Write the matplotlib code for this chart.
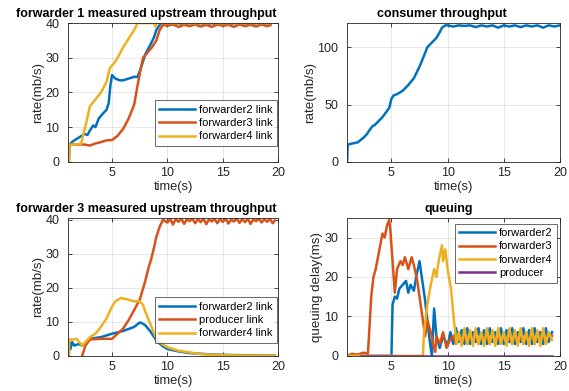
import numpy as np
import matplotlib
matplotlib.use("Agg")
import matplotlib.pyplot as plt

plt.rcParams['font.family'] = ['Liberation Sans', 'DejaVu Sans']

C_BLUE = '#0072BD'
C_RED = '#D95319'
C_YEL = '#EDB120'
C_PUR = '#7E2F8E'

# ---- forwarder 1 measured upstream throughput ----
f1_t_fw2 = [1.1, 1.15, 1.5, 2.0, 2.5, 2.8, 3.0, 3.3, 3.5, 3.8, 4.2, 4.5, 4.7, 4.85, 5.0, 5.3, 5.7,
            6.0, 6.5, 7.0, 7.3, 7.6, 8.0, 8.5, 8.8, 9.0, 9.3, 9.5, 10.0, 10.5, 11.0, 11.5, 12.0,
            12.5, 13.0, 13.5, 14.0, 14.5, 15.0, 15.5, 16.0, 16.5, 17.0, 17.5, 18.0, 18.5, 19.0, 19.3]
f1_fw2 = [0, 5, 6, 7, 8, 7.8, 9, 10.5, 10, 12.5, 14, 15, 17, 22, 25, 24, 23.5,
          23.5, 24, 24.5, 24.5, 27, 31, 34, 36, 38, 39.5, 40, 40, 39.6, 40, 39.5, 40,
          39.7, 40, 39.5, 40, 39.6, 40, 39.5, 40, 39.7, 40, 39.5, 40, 39.6, 40, 39.8]
f1_t_fw3 = [1.1, 1.15, 2.0, 2.5, 3.0, 3.5, 4.0, 4.5, 5.0, 5.5, 6.0, 6.5, 7.0, 7.3, 7.6, 7.8,
            8.2, 8.6, 9.0, 9.3, 9.6, 10.0, 10.5, 11.0, 11.5, 12.0, 12.5, 13.0, 13.5, 14.0,
            14.5, 15.0, 15.5, 16.0, 16.5, 17.0, 17.5, 18.0, 18.5, 19.0, 19.3]
f1_fw3 = [0, 5, 5, 5, 4.7, 5.3, 5.7, 6.2, 6.3, 7.5, 9.5, 12.5, 16.5, 22, 27, 30,
          31.5, 33, 35, 38, 39.5, 39.2, 39.6, 38.9, 39.5, 39.1, 39.6, 39, 39.5, 38.9,
          39.6, 39.2, 39.5, 38.9, 39.6, 39.1, 39.5, 39, 39.6, 39.1, 39.4]
f1_t_fw4 = [1.1, 1.15, 1.5, 2.2, 2.5, 2.8, 3.0, 3.5, 4.0, 4.5, 4.8, 5.2, 5.5, 6.0, 6.5, 7.0,
            7.3, 8.0, 8.8, 8.9, 9.0, 10.0, 12.0, 14.0, 16.0, 18.0, 19.3]
f1_fw4 = [0, 5, 5, 5.2, 9, 13, 16, 18, 20, 23, 27, 28.5, 30, 33, 35.5, 38,
          40, 40, 40, 39, 40, 40, 40, 40, 40, 40, 40]

# ---- consumer throughput ----
c_t = [1.05, 1.1, 1.5, 2.0, 2.5, 2.8, 3.0, 3.3, 3.5, 3.8, 4.2, 4.5, 4.8, 5.0, 5.2, 5.5, 6.0,
       6.5, 7.0, 7.5, 8.0, 8.2, 8.6, 9.0, 9.3, 9.5, 9.8, 10.0, 10.5, 11.0, 11.5, 12.0, 12.5,
       13.0, 13.5, 14.0, 14.5, 15.0, 15.5, 16.0, 16.5, 17.0, 17.5, 18.0, 18.5, 19.0, 19.5, 20.0]
c_rate = [0, 15, 16, 17, 21, 24, 27, 31, 32, 35, 39, 43, 47, 55, 58, 59, 62,
          67, 73, 83, 95, 100, 104, 108, 113, 117, 119, 119, 118, 119, 118.5, 119, 117.5,
          119, 118, 119, 117, 119, 118, 119, 117.5, 119, 118, 119, 117, 119, 118, 119]

# ---- forwarder 3 measured upstream throughput ----
f3_t_fw2 = [1.1, 1.15, 1.25, 1.4, 1.6, 2.0, 2.3, 2.7, 3.0, 4.0, 5.0, 6.0, 7.0, 7.5, 7.7, 8.0,
            8.5, 9.0, 9.5, 10.0, 11.0, 12.0, 14.0, 16.0, 19.7]
f3_fw2 = [0, 4, 2, 4, 3, 3.5, 3, 4, 5, 5.5, 6.5, 7.3, 8.5, 9.8, 9.6, 9,
          7, 4.5, 3, 2, 1.3, 0.8, 0.4, 0.2, 0.1]
f3_t_prod = [2.3, 2.6, 3.0, 4.0, 5.0, 5.5, 6.0, 6.5, 7.0, 7.5, 8.0, 8.3, 8.5, 8.8, 9.0, 9.3,
             9.6, 10.0, 10.25, 10.5, 10.75, 11.0, 11.25, 11.5, 11.75, 12.0, 12.25, 12.5,
             12.75, 13.0, 13.25, 13.5, 13.75, 14.0, 14.25, 14.5, 14.75, 15.0, 15.25, 15.5,
             15.75, 16.0, 16.25, 16.5, 16.75, 17.0, 17.25, 17.5, 17.75, 18.0, 18.25, 18.5,
             18.75, 19.0, 19.25, 19.5, 19.7]
f3_prod = [0, 3, 4.8, 5, 5, 6.5, 8, 10.5, 13.5, 16.5, 22, 26, 28, 32, 35, 38,
           40, 39.2, 40.3, 38.6, 40.2, 39.4, 40.4, 38.8, 40.1, 39.6, 40.4, 39,
           40.2, 39.3, 40.4, 38.7, 40.1, 39.5, 40.3, 39, 40.2, 39.4, 40.4, 38.9,
           40.1, 39.5, 40.4, 39.1, 40.2, 39.3, 40.3, 38.8, 40.1, 39.6, 40.4, 39.2,
           40.2, 39.4, 40.3, 39.0, 39.8]
f3_t_fw4 = [1.1, 1.15, 1.5, 1.8, 2.0, 2.3, 2.6, 3.0, 3.5, 4.0, 4.5, 5.0, 5.3, 5.8, 6.5, 7.0,
            7.5, 7.8, 8.0, 8.5, 9.0, 9.5, 10.0, 11.0, 12.0, 13.0, 14.0, 16.0, 19.7]
f3_fw4 = [0, 4.8, 4.8, 5, 4.2, 3, 4, 5.5, 6.5, 8.5, 11, 14.5, 16, 17, 16.5, 16,
          16, 15, 13, 9, 5, 3.5, 2.5, 1.5, 1, 0.5, 0.3, 0.1, 0.05]

# ---- queuing ----
q_t_fw2 = [1.0, 5.0, 5.1, 5.3, 5.5, 5.7, 6.0, 6.3, 6.5, 6.7, 7.0, 7.2, 7.5, 7.7, 8.0, 8.2,
           8.4, 8.6, 8.8, 9.0, 9.3, 9.6, 10.0, 10.25, 10.5, 10.75, 11.0, 11.25, 11.5, 11.75,
           12.0, 12.25, 12.5, 12.75, 13.0, 13.25, 13.5, 13.75, 14.0, 14.25, 14.5, 14.75,
           15.0, 15.25, 15.5, 15.75, 16.0, 16.25, 16.5, 16.75, 17.0, 17.25, 17.5, 17.75,
           18.0, 18.25, 18.5, 18.75, 19.0, 19.3]
q_fw2 = [0, 0, 13, 15, 14.5, 17, 18, 19, 16, 18, 16.5, 20, 24, 20, 14, 9,
         4, 0, 12, 5, 2, 5, 2.5, 6, 3, 7, 3.5, 6.5, 3, 7,
         3, 6, 3.5, 7, 3, 6.5, 3, 7, 3.5, 6, 3, 7,
         3, 6.5, 3.5, 7, 3, 6, 3.5, 7, 3, 6.5, 3, 7,
         3.5, 6, 3, 7, 3.5, 6]
q_t_fw3 = [1.0, 1.5, 2.0, 2.5, 2.9, 3.0, 3.2, 3.4, 3.6, 3.8, 4.0, 4.2, 4.4, 4.6, 4.8, 4.9,
           5.1, 5.3, 5.5, 5.8, 6.0, 6.2, 6.5, 6.8, 7.0, 7.3, 7.6, 7.8, 8.0, 8.2, 8.5, 8.7,
           8.9, 9.0, 9.3, 9.6, 9.9, 10.2, 10.5, 10.75, 11.0, 11.25, 11.5, 11.75, 12.0,
           12.25, 12.5, 12.75, 13.0, 13.25, 13.5, 13.75, 14.0, 14.25, 14.5, 14.75, 15.0,
           15.25, 15.5, 15.75, 16.0, 16.25, 16.5, 16.75, 17.0, 17.25, 17.5, 17.75, 18.0,
           18.25, 18.5, 18.75, 19.0, 19.3]
q_fw3 = [0, 0.5, 0.3, 0.8, 0.5, 5, 15, 20, 22, 25, 28, 31, 30, 33, 34.5, 32,
         24, 16, 22, 24, 23, 25, 22, 25, 23, 19, 13, 9, 5, 9, 6, 3,
         1, 5, 3, 6, 2, 4, 5, 3, 5.5, 3.5, 5, 3, 5.5,
         3.5, 5, 3, 5.5, 4, 5, 3, 5.5, 3.5, 5, 3, 5.5,
         3.5, 5, 3, 6, 3.5, 5, 3, 5.5, 3.5, 6, 3, 5.5,
         3.5, 6, 3, 5.5, 5]
q_t_fw4 = [1.0, 7.8, 7.9, 8.2, 8.5, 8.8, 9.0, 9.2, 9.5, 9.6, 9.8, 10.0, 10.3, 10.6, 10.8,
           11.0, 11.25, 11.5, 11.75, 12.0, 12.25, 12.5, 12.75, 13.0, 13.25, 13.5, 13.75,
           14.0, 14.25, 14.5, 14.75, 15.0, 15.25, 15.5, 15.75, 16.0, 16.25, 16.5, 16.75,
           17.0, 17.25, 17.5, 17.75, 18.0, 18.25, 18.5, 18.75, 19.0, 19.3]
q_fw4 = [0, 0, 6, 13, 18, 22, 20, 24, 28, 24, 27, 22, 17, 8, 3,
         6, 2.5, 7, 3, 6.5, 2.5, 7, 3, 6, 2.5, 7, 3,
         6.5, 2.5, 7, 3, 6, 2.5, 7, 3, 6.5, 2.5, 7, 3,
         6, 2.5, 7, 3, 6.5, 2.5, 7, 3, 6, 4]
q_t_prod = [2.3, 19.3]
q_prod = [0, 0]


def style_axes(ax, title, title_x, ylabel, ylim, yticks):
    ax.set_xlim(1, 20)
    ax.set_ylim(*ylim)
    ax.set_xticks([5, 10, 15, 20])
    ax.set_yticks(yticks)
    ax.grid(True, color='#262626', alpha=0.12, linewidth=0.6)
    ax.set_axisbelow(True)
    ax.tick_params(direction='in', length=3, width=0.6, colors='#262626',
                   labelsize=9, top=True, right=True)
    ax.tick_params(axis='x', pad=4)
    ax.tick_params(axis='y', pad=6)
    for s in ax.spines.values():
        s.set_color('#262626')
        s.set_linewidth(0.6)
    ax.set_title(title, fontsize=9, fontweight='bold', pad=4.5, x=title_x)
    ax.set_xlabel('time(s)', fontsize=9.3, color='#262626', labelpad=1)
    ax.set_ylabel(ylabel, fontsize=9.6, color='#262626', labelpad=1)


def legend(ax, **kw):
    leg = ax.legend(fontsize=8, frameon=True, fancybox=False, handlelength=3.2,
                    borderpad=0.4, labelspacing=0.3, handletextpad=0.4,
                    borderaxespad=0, **kw)
    leg.get_frame().set_edgecolor('#262626')
    leg.get_frame().set_linewidth(0.6)


fig = plt.figure(figsize=(5.69, 3.91), dpi=100)
ax1 = fig.add_axes([0.119, 0.586, 0.370, 0.355])
ax2 = fig.add_axes([0.609, 0.586, 0.375, 0.355])
ax3 = fig.add_axes([0.119, 0.090, 0.370, 0.353])
ax4 = fig.add_axes([0.609, 0.090, 0.375, 0.353])

lw = 1.8
ax1.plot(f1_t_fw2, f1_fw2, color=C_BLUE, lw=lw, label='forwarder2 link')
ax1.plot(f1_t_fw3, f1_fw3, color=C_RED, lw=lw, label='forwarder3 link')
ax1.plot(f1_t_fw4, f1_fw4, color=C_YEL, lw=lw, label='forwarder4 link')
style_axes(ax1, 'forwarder 1 measured upstream throughput', 0.373, 'rate(mb/s)',
           (0, 40), [0, 10, 20, 30, 40])
legend(ax1, loc='lower right', bbox_to_anchor=(0.995, 0.115))

ax2.plot(c_t, c_rate, color=C_BLUE, lw=lw)
style_axes(ax2, 'consumer throughput', 0.445, 'rate(mb/s)', (0, 121), [0, 50, 100])

ax3.plot(f3_t_fw2, f3_fw2, color=C_BLUE, lw=lw, label='forwarder2 link')
ax3.plot(f3_t_prod, f3_prod, color=C_RED, lw=lw, label='producer link')
ax3.plot(f3_t_fw4, f3_fw4, color=C_YEL, lw=lw, label='forwarder4 link')
style_axes(ax3, 'forwarder 3 measured upstream throughput', 0.373, 'rate(mb/s)',
           (0, 40.6), [0, 10, 20, 30, 40])
legend(ax3, loc='lower right', bbox_to_anchor=(0.995, 0.094))

ax4.plot(q_t_fw2, q_fw2, color=C_BLUE, lw=lw, label='forwarder2')
ax4.plot(q_t_fw3, q_fw3, color=C_RED, lw=lw, label='forwarder3')
ax4.plot(q_t_fw4, q_fw4, color=C_YEL, lw=lw, label='forwarder4')
ax4.plot(q_t_prod, q_prod, color=C_PUR, lw=lw, label='producer')
style_axes(ax4, 'queuing', 0.477, 'queuing delay(ms)', (0, 35), [0, 10, 20, 30])
legend(ax4, loc='upper right', bbox_to_anchor=(0.987, 0.957))

fig.savefig('out.png', dpi=100)
